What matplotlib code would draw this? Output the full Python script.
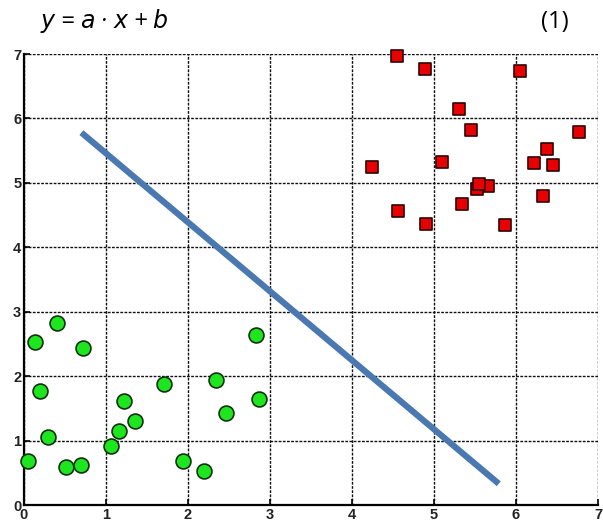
import matplotlib
matplotlib.use('Agg')
import matplotlib.pyplot as plt
import numpy as np

# class A (green circles)
green_x = [0.05, 0.14, 0.40, 0.72, 0.19, 0.29, 0.51, 0.70, 1.06, 1.16,
           1.22, 1.35, 1.71, 1.94, 2.20, 2.34, 2.46, 2.83, 2.86]
green_y = [0.68, 2.53, 2.82, 2.43, 1.77, 1.06, 0.59, 0.62, 0.92, 1.15,
           1.61, 1.30, 1.88, 0.68, 0.53, 1.94, 1.43, 2.64, 1.65]

# class B (red squares)
red_x = [4.55, 4.89, 6.05, 5.30, 5.45, 6.77, 6.38, 6.22, 6.45, 5.10,
         4.24, 5.66, 5.53, 5.55, 6.33, 5.34, 4.56, 4.90, 5.87]
red_y = [6.97, 6.77, 6.74, 6.15, 5.82, 5.79, 5.53, 5.31, 5.28, 5.33,
         5.25, 4.95, 4.90, 4.98, 4.80, 4.67, 4.57, 4.36, 4.35]

# separating line endpoints
line_x = [0.70, 5.79]
line_y = [5.78, 0.33]

ticks = list(range(8))

fig = plt.figure(figsize=(6.03, 5.26), dpi=100)
ax = fig.add_axes([0.0398, 0.0399, 0.9519, 0.8574])

ax.set_xlim(0, 7)
ax.set_ylim(0, 7)
ax.set_xticks(ticks)
ax.set_yticks(ticks)
ax.grid(True, color='#111111', linestyle=(0, (2, 1)), linewidth=1.0)
ax.set_axisbelow(True)

for side in ['top', 'right']:
    ax.spines[side].set_visible(False)
for side in ['left', 'bottom']:
    ax.spines[side].set_linewidth(1.6)

ax.tick_params(direction='in', length=4, width=1.2, pad=2,
               labelsize=10.5, labelcolor='#222222')
for lab in ax.get_xticklabels() + ax.get_yticklabels():
    lab.set_family('Liberation Sans')
    lab.set_fontweight('bold')

ax.plot(line_x, line_y, color='#4a78b0', linewidth=4.5,
        solid_capstyle='butt', zorder=3)
ax.scatter(green_x, green_y, s=115, marker='o', color='#1ee61e',
           edgecolors='#103010', linewidths=1.2, zorder=4, clip_on=False)
ax.scatter(red_x, red_y, s=85, marker='s', color='#e80000',
           edgecolors='#300000', linewidths=1.2, zorder=4, clip_on=False)

# equation header
fig.text(0.066, 0.947, r'$y$ = $a$ · $x$ + $b$', fontsize=17,
         family='Open Sans', style='italic', va='baseline')
fig.text(0.898, 0.947, '(1)', fontsize=17, family='Open Sans', va='baseline')

fig.savefig('out.png', dpi=100)
